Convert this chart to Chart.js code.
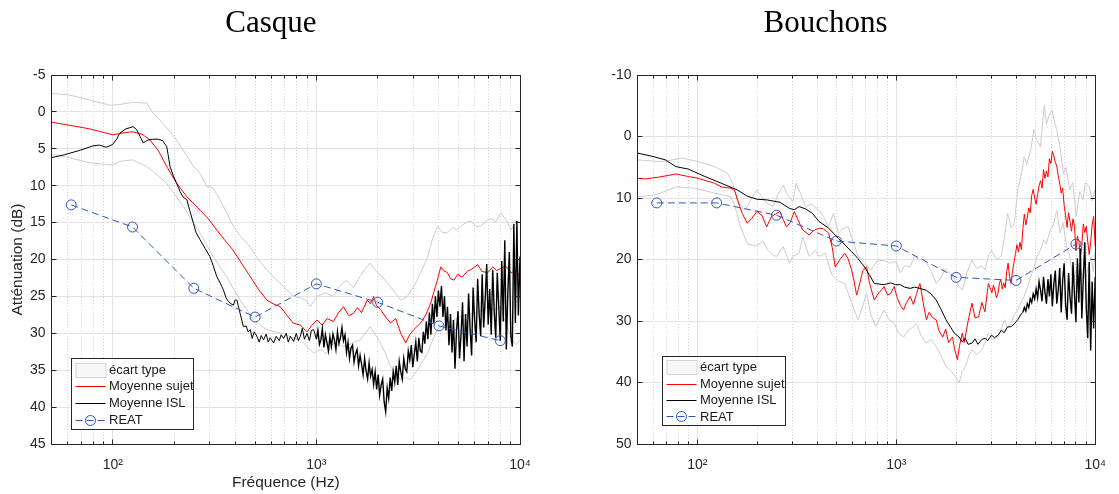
<!DOCTYPE html>
<html lang="fr">
<head>
<meta charset="utf-8">
<title>Atténuation casque / bouchons</title>
<script src="https://cdn.jsdelivr.net/npm/chart.js@4.4.1/dist/chart.umd.min.js"></script>
<style>
  body { margin: 0; background: #fff; }
  #page { position: relative; width: 1119px; height: 494px; overflow: hidden; }
  #page canvas { position: absolute; top: 0; }
  #graficoCasque { left: 0; }
  #graficoBouchons { left: 531px; }
</style>
</head>
<body>
<div id="page">
  <canvas id="graficoCasque" width="560" height="494"></canvas>
  <canvas id="graficoBouchons" width="588" height="494"></canvas>
</div>
<script>
// graduations de l'axe des fréquences (log)
const graduationsX = [60, 70, 80, 90, 100, 200, 300, 400, 500, 600, 700, 800, 900, 1000, 2000, 3000, 4000, 5000, 6000, 7000, 8000, 9000, 10000];
const decadesX = [100, 1000, 10000];
const etiquettesX = ['10²', '10³', '10⁴'];

// REAT (bandes d'octave)
const frequencesReat = [62.5, 125, 250, 500, 1000, 2000, 4000, 8000];
const casqueReat = [12.6, 15.6, 23.9, 27.8, 23.3, 25.8, 29.0, 31.0];
const bouchonsReat = [10.8, 10.8, 12.8, 17.0, 17.8, 22.9, 23.4, 17.5];

// grille fine pour les parties bruitées (1 kHz - 10 kHz)
const frequencesFines = [1000, 1017, 1035, 1052, 1070, 1089, 1107, 1126, 1146, 1165,
  1185, 1206, 1226, 1247, 1269, 1291, 1313, 1335, 1358, 1382,
  1406, 1430, 1454, 1479, 1505, 1531, 1557, 1584, 1611, 1639,
  1667, 1696, 1725, 1754, 1785, 1815, 1846, 1878, 1910, 1943,
  1977, 2011, 2045, 2080, 2116, 2152, 2189, 2227, 2265, 2304,
  2344, 2384, 2425, 2467, 2509, 2552, 2596, 2641, 2686, 2732,
  2779, 2827, 2876, 2925, 2975, 3026, 3078, 3131, 3185, 3240,
  3296, 3352, 3410, 3468, 3528, 3589, 3650, 3713, 3777, 3842,
  3908, 3975, 4043, 4113, 4184, 4256, 4329, 4403, 4479, 4556,
  4635, 4714, 4795, 4878, 4962, 5047, 5134, 5222, 5312, 5404,
  5497, 5591, 5687, 5785, 5885, 5986, 6089, 6194, 6300, 6409,
  6519, 6631, 6745, 6861, 6979, 7099, 7222, 7346, 7472, 7601,
  7732, 7865, 8000, 8138, 8278, 8420, 8565, 8713, 8863, 9015,
  9170, 9328, 9489, 9652, 9818, 10000];

// ---- Casque ----
const casqueFreqSujet = [50, 61, 77, 100, 115, 125, 139, 152, 167, 184, 204, 231, 268, 293, 324, 355, 389, 426, 473, 518, 571, 613, 665, 719, 768, 834, 900, 945, 1007, 1067, 1130, 1212, 1286, 1358, 1440, 1521, 1590, 1665, 1778, 1840, 1910, 1970, 2066, 2187, 2316, 2450, 2596, 2744, 2870, 3005, 3254, 3445, 3645, 3810, 3930, 4081, 4225, 4403, 4560, 4732, 4950, 5180, 5524, 5790, 6194, 6490, 6937, 7350, 7680, 8057, 8520, 9037, 9560, 10000];
const casqueSujet = [1.4, 1.8, 2.3, 3.1, 2.8, 2.7, 3.0, 3.8, 5.2, 7.4, 9.5, 11.5, 13.3, 14.4, 16.0, 17.4, 18.7, 20.4, 22.3, 24.0, 25.5, 26.0, 26.4, 27.6, 28.6, 28.9, 29.8, 29.0, 28.2, 28.9, 28.0, 28.4, 27.2, 26.4, 27.6, 27.3, 26.5, 27.2, 25.5, 26.0, 25.0, 26.2, 26.8, 27.8, 28.6, 28.0, 30.0, 31.3, 30.2, 29.5, 28.6, 27.5, 25.9, 24.0, 22.8, 21.0, 21.5, 21.8, 22.6, 22.8, 22.0, 22.4, 21.6, 21.3, 20.7, 21.6, 21.8, 21.0, 21.5, 21.2, 20.9, 21.8, 21.5, 22.3];

const casqueFreqHaut = [50, 61, 77, 97, 108, 125, 147, 156, 164, 182, 206, 229, 249, 268, 289, 311, 336, 360, 391, 422, 473, 518, 571, 627, 690, 772, 834, 894, 935, 1007, 1105, 1212, 1311, 1409, 1521, 1640, 1740, 1840, 1950, 2066, 2187, 2316, 2450, 2596, 2800, 2970, 3130, 3290, 3520, 3690, 3930, 4140, 4403, 4700, 4870, 5120, 5430, 5750, 6080, 6400, 6800, 7200, 7600, 8057, 8520, 9037, 9350, 9600, 10000];
const casqueHaut = [-2.5, -2.3, -1.6, -0.9, -1.0, -1.3, -1.2, 0.0, 0.6, 2.0, 3.8, 5.8, 7.4, 8.3, 10.1, 10.3, 11.9, 13.5, 15.5, 16.8, 18.3, 20.0, 21.4, 22.6, 23.7, 25.0, 25.2, 25.6, 26.4, 25.0, 24.5, 25.0, 23.5, 22.8, 23.8, 22.3, 21.2, 20.5, 21.5, 22.1, 22.9, 23.7, 24.6, 25.5, 25.0, 23.9, 22.8, 21.5, 19.6, 17.5, 15.5, 16.3, 16.4, 15.6, 16.0, 15.5, 15.0, 14.8, 15.5, 15.5, 14.8, 14.4, 14.9, 13.7, 14.6, 16.0, 15.3, 14.8, 15.0];

const casqueFreqBas = [50, 61, 77, 100, 108, 125, 147, 163, 184, 202, 222, 245, 268, 289, 311, 336, 362, 390, 422, 456, 491, 530, 571, 627, 690, 752, 834, 900, 970, 1045, 1120, 1212, 1311, 1409, 1521, 1640, 1740, 1840, 1950, 2066, 2187, 2316, 2450, 2596, 2744, 2900, 3130, 3290, 3520, 3690, 3930, 4140, 4403, 4732, 5120, 5524, 5960, 6400, 6937, 7440, 8057, 8300, 8650, 9037, 9350, 9600, 10000];
const casqueBas = [5.7, 6.2, 6.9, 7.2, 6.7, 6.5, 7.4, 8.4, 9.7, 11.2, 12.8, 14.7, 16.4, 18.0, 19.6, 21.0, 22.3, 23.9, 25.5, 26.8, 28.2, 28.9, 29.5, 29.8, 30.0, 30.5, 30.9, 31.8, 32.7, 32.2, 32.8, 31.3, 31.7, 31.8, 31.2, 30.9, 30.0, 29.1, 30.2, 31.3, 32.8, 34.5, 35.5, 36.3, 36.0, 36.3, 35.0, 34.0, 32.7, 31.2, 29.5, 29.0, 28.6, 28.2, 27.7, 27.5, 27.3, 27.0, 26.4, 26.8, 26.4, 27.8, 29.1, 30.4, 31.3, 31.5, 30.9];

const casqueFreqIsl = [50, 58, 69, 80, 86, 93, 100, 105, 108, 116, 126, 131, 136, 141, 145, 149, 157, 167, 176, 184, 187, 191, 198, 206, 214, 221, 231, 239, 249, 256, 268, 284, 300, 311, 324, 337, 349, 360, 370, 381, 391, 399, 407, 413, 422, 438,
  452, 462, 473, 484, 495, 510, 524, 536, 550, 567, 580, 593, 616, 635, 657, 672, 690, 711, 728, 745, 773, 797, 815, 834, 853, 873, 900, 924, 945, 970].concat(frequencesFines);
const casqueIsl = [6.2, 5.8, 5.2, 4.6, 4.5, 4.8, 4.4, 3.6, 2.9, 2.3, 2.0, 2.4, 3.3, 4.2, 4.0, 3.8, 3.7, 3.7, 3.9, 4.7, 5.8, 7.4, 8.6, 9.7, 10.8, 11.5, 11.9, 13.4, 15.1, 16.3, 17.3, 18.5, 19.6, 20.8, 22.3, 23.2, 24.1, 25.2, 25.7, 26.0, 26.2, 25.5, 25.5, 26.2, 27.3, 29.1,
  29.0, 29.8, 29.5, 30.7, 29.8, 30.4, 31.2, 30.3, 30.9, 30.1, 31.2, 30.6, 31.3, 30.4, 31.0, 30.2, 30.7, 30.0, 31.2, 30.4, 31.1, 30.0, 31.0, 30.4, 29.3, 30.8, 30.0, 31.0, 29.6, 29.5,
  30.8, 29.6, 31.5, 30.9, 29.4, 31.9, 30.2, 31.2, 32.4, 30.5,
  31.8, 30.1, 30.9, 32.2, 29.8, 31.4, 30.6, 29.2, 31.0, 30.2,
  32.6, 31.2, 33.4, 32.0, 31.6, 33.9, 32.8, 32.2, 34.4, 33.0,
  34.2, 35.6, 33.4, 35.1, 36.2, 34.0, 35.8, 34.9, 36.9, 35.2,
  37.6, 35.6, 38.4, 37.0, 36.2, 39.3, 40.6, 37.4, 38.8, 36.0,
  37.8, 35.2, 36.6, 34.4, 37.0, 33.8, 35.2, 36.2, 33.4, 34.8,
  35.2, 32.4, 33.6, 31.6, 34.6, 32.8, 31.2, 33.8, 30.6, 32.4,
  32.6, 29.8, 31.4, 28.4, 30.8, 27.2, 30.2, 26.0, 28.6, 25.0,
  27.8, 24.2, 26.4, 23.6, 27.8, 25.0, 29.6, 26.4, 31.6, 27.4,
  32.6, 28.2, 34.8, 29.6, 27.0, 33.4, 30.2, 25.8, 33.8, 27.4,
  31.8, 24.6, 29.4, 33.0, 23.8, 28.2, 31.2, 22.6, 27.4, 30.4,
  22.0, 29.2, 25.4, 20.6, 28.8, 24.0, 30.2, 21.4, 27.2, 30.6,
  21.8, 26.4, 31.0, 20.2, 28.4, 17.4, 32.2, 24.6, 19.0, 30.4,
  31.8, 15.2, 28.6, 14.8, 27.6, 19.6];

// ---- Bouchons ----
const bouchonsFreqSujet = [50, 55, 64, 78, 90, 101, 122, 132, 147, 154, 159, 168, 178, 188, 199, 211, 223, 236, 260, 271, 280, 293, 307, 320, 338, 365, 384, 408, 430, 457, 476, 493, 521, 551, 571, 596, 613, 632, 656, 679, 709, 733, 775, 818, 850, 868, 904, 937, 977,
  1005, 1049, 1089, 1125, 1174, 1219, 1266, 1315, 1365, 1417, 1461, 1529, 1587, 1636, 1712, 1771, 1833, 1917, 1961, 2028, 2080, 2146, 2195, 2297, 2350, 2403, 2486, 2593, 2692, 2790, 2903]
  .concat(frequencesFines.filter(function (f) { return f >= 3026; }));
const bouchonsSujet = [6.8, 6.9, 6.6, 6.1, 6.5, 6.8, 7.6, 8.2, 8.4, 8.8, 10.3, 12.5, 14.1, 13.3, 12.2, 12.8, 14.7, 13.0, 12.2, 13.6, 14.7, 14.0, 12.2, 13.5, 15.2, 16.0, 15.3, 14.9, 15.0, 15.7, 18.0, 21.2, 20.0, 19.0, 19.8, 21.7, 23.5, 25.8, 23.8, 21.8, 21.2, 23.8, 26.6, 25.4, 24.8, 24.4, 25.8, 25.5, 24.4,
  26.0, 27.5, 28.2, 27.0, 26.0, 27.3, 25.5, 23.9, 27.0, 29.8, 28.6, 29.5, 29.8, 31.5, 32.6, 31.3, 33.5, 32.6, 34.5, 36.3, 34.0, 32.0, 33.5, 30.0, 28.5, 27.1, 29.5, 29.3, 27.0, 28.5, 23.9,
  25.4, 24.2, 25.0, 26.2, 25.6, 24.0, 23.2, 24.8, 23.8, 24.6,
  22.0, 20.6, 22.8, 23.9, 21.8, 20.4, 19.0, 17.6, 18.8, 17.2,
  18.4, 15.0, 12.6, 14.4, 13.2, 11.6, 12.4, 9.6, 8.6, 10.0,
  11.0, 9.4, 8.0, 7.2, 8.4, 5.4, 6.8, 5.6, 6.6, 3.6,
  4.4, 2.4, 3.2, 4.2, 4.8, 6.4, 7.6, 9.2, 8.4, 11.2,
  12.8, 14.8, 12.4, 13.8, 15.4, 13.4, 14.6, 18.6, 16.2, 17.0,
  19.6, 17.8, 14.2, 15.6, 14.6, 17.0, 19.2, 17.2, 14.4, 13.0, 17.8];

const bouchonsFreqHaut = [50, 67, 84, 101, 122, 142, 150, 159, 172, 178, 188, 199, 211, 223, 241, 253, 270, 284, 302, 314, 332, 351, 376, 408, 430, 457, 483, 512, 540, 573, 605, 642, 692, 745, 808, 868, 937, 994,
  1049, 1101, 1174, 1233, 1315, 1365, 1444, 1529, 1587, 1673, 1771, 1917, 2028, 2146, 2271, 2403, 2543, 2692, 2795, 2913, 3013, 3189, 3376, 3491, 3631, 3780, 3923,
  4077, 4233, 4394, 4530, 4741, 4920, 5070, 5307, 5429, 5554, 5681, 5830, 6060, 6218, 6405, 6657, 6920, 7127, 7458, 7716, 8030, 8357, 8676, 8930, 9344, 9667, 9860, 10000];
const bouchonsHaut = [3.8, 4.1, 3.5, 4.1, 4.9, 6.0, 7.5, 10.3, 12.0, 11.4, 10.0, 8.7, 9.8, 10.8, 11.4, 9.5, 7.9, 9.5, 10.6, 7.6, 9.5, 11.4, 11.0, 12.0, 13.0, 14.7, 12.5, 15.7, 15.0, 14.7, 17.0, 19.5, 20.5, 21.7, 20.1, 20.2, 20.6, 20.3,
  22.2, 21.0, 21.2, 19.5, 20.1, 19.5, 21.0, 22.5, 23.9, 23.0, 21.5, 22.8, 24.0, 25.0, 22.0, 20.1, 21.5, 21.0, 21.7, 19.2, 18.5, 20.0, 19.5, 16.5, 12.5, 14.8, 14.1,
  8.7, 6.5, 3.3, 4.5, 2.2, -1.1, 0.5, 1.7, -2.0, -5.1, -2.0, -3.2, -4.3, -2.5, -1.1, 1.7, 6.0, 5.0, 8.7, 7.5, 13.0, 9.0, 10.3, 7.5, 8.2, 10.5, 9.2, 8.5];

const bouchonsFreqBas = [50, 62, 78, 97, 122, 147, 155, 165, 178, 195, 215, 226, 241, 250, 270, 291, 302, 325, 338, 365, 393, 408, 440, 475, 512, 551, 596, 642, 679, 709, 745, 787, 828, 868, 923, 977,
  1029, 1089, 1152, 1219, 1266, 1335, 1417, 1495, 1587, 1673, 1777, 1874, 1990, 2068, 2146, 2228, 2323, 2403, 2543, 2692, 2790, 2903, 3048, 3251, 3376, 3503, 3612, 3780, 3909,
  4077, 4233, 4394, 4530, 4741, 4902, 5110, 5307, 5508, 5681, 5941, 6148, 6405, 6657, 6886, 7178, 7458, 7735, 8039, 8357, 8634, 9000, 9344, 9526, 9777, 10000];
const bouchonsBas = [9.8, 9.5, 8.2, 8.4, 9.2, 9.8, 11.5, 14.7, 17.4, 17.8, 17.1, 18.5, 19.3, 19.5, 17.9, 20.6, 19.5, 19.0, 16.3, 19.5, 18.5, 19.5, 19.0, 22.5, 23.5, 23.9, 27.0, 29.8, 27.5, 25.5, 29.0, 30.9, 29.5, 28.2, 29.8, 30.4,
  32.0, 32.6, 31.5, 30.9, 30.4, 32.5, 33.6, 33.0, 34.2, 35.5, 37.4, 38.0, 39.1, 40.1, 38.2, 37.4, 35.5, 34.7, 35.5, 34.7, 33.5, 32.0, 33.0, 32.6, 31.2, 29.8, 31.0, 30.4, 29.0,
  28.2, 27.0, 26.0, 24.8, 22.8, 21.5, 19.5, 18.5, 16.8, 17.5, 15.2, 14.5, 12.0, 15.7, 14.0, 17.9, 19.5, 23.9, 21.5, 20.6, 23.0, 22.8, 20.5, 19.5, 22.0, 18.5];

const bouchonsFreqIsl = [50, 59, 69, 78, 90, 109, 132, 159, 178, 199, 223, 260, 291, 307, 325, 351, 379, 408, 457, 512, 596, 640, 692, 733, 775, 820, 868, 937, 994,
  1049, 1101, 1174, 1233, 1315, 1417, 1495, 1587, 1673, 1777, 1874, 1961, 2068, 2146, 2221, 2297, 2403, 2486, 2572, 2692, 2795, 2881, 3013, 3118, 3251, 3376, 3491, 3612, 3780, 3909,
  4077, 4233].concat(frequencesFines.filter(function (f) { return f >= 4329; }));
const bouchonsIsl = [2.7, 3.2, 3.8, 4.9, 5.3, 6.5, 7.6, 8.7, 9.7, 10.2, 10.3, 10.7, 11.7, 11.9, 11.4, 11.8, 12.5, 13.8, 14.9, 16.6, 18.7, 19.8, 21.2, 22.5, 23.9, 24.0, 24.1, 23.8, 24.1,
  24.1, 24.5, 24.7, 24.5, 24.7, 25.0, 25.6, 26.6, 28.0, 29.8, 31.0, 32.0, 32.6, 33.4, 32.8, 33.8, 33.6, 32.9, 33.8, 33.0, 32.8, 33.2, 32.3, 32.7, 32.3, 31.5, 31.9, 31.0, 30.9, 30.5,
  29.8, 28.9,
  28.6, 27.8, 28.4, 27.2, 27.8, 26.4, 27.0, 25.6, 26.4, 24.8,
  26.2, 23.6, 25.0, 26.8, 22.8, 25.4, 27.2, 23.2, 26.0, 22.4,
  27.6, 24.0, 21.8, 27.2, 25.0, 21.4, 28.6, 23.4, 20.6, 27.4,
  29.8, 22.2, 26.2, 28.8, 20.4, 25.6, 30.2, 19.8, 27.0, 18.2,
  29.6, 23.0, 17.2, 27.8, 32.8, 20.4, 34.8, 23.6, 31.2, 22.8];

function points(frequences, valeurs) {
  return frequences.map(function (f, i) { return { x: f, y: valeurs[i] }; });
}

function aligne(v) {
  return Math.round(v - 0.5) + 0.5;
}

// cadre + graduations vers l'intérieur (style matlab)
const cadreMatlab = {
  id: 'cadreMatlab',
  afterDatasetsDraw(chart) {
    const { ctx, chartArea, scales } = chart;
    const g = aligne(chartArea.left), d = aligne(chartArea.right);
    const h = aligne(chartArea.top), b = aligne(chartArea.bottom);
    ctx.save();
    ctx.strokeStyle = '#262626';
    ctx.lineWidth = 1;
    ctx.beginPath();
    scales.y.ticks.forEach(function (t) {
      const y = aligne(scales.y.getPixelForValue(t.value));
      ctx.moveTo(g, y); ctx.lineTo(g + 5, y);
      ctx.moveTo(d, y); ctx.lineTo(d - 5, y);
    });
    scales.x.ticks.forEach(function (t) {
      const x = aligne(scales.x.getPixelForValue(t.value));
      const l = decadesX.includes(t.value) ? 5 : 3;
      ctx.moveTo(x, b); ctx.lineTo(x, b - l);
      ctx.moveTo(x, h); ctx.lineTo(x, h + l);
    });
    ctx.stroke();
    ctx.strokeRect(g, h, d - g, b - h);
    ctx.restore();
  }
};

// légende dans le coin en bas à gauche
const legendeMatlab = {
  id: 'legendeMatlab',
  afterDraw(chart, args, opts) {
    const { ctx, chartArea } = chart;
    const x0 = aligne(chartArea.left + opts.dx);
    const y0 = aligne(chartArea.bottom - opts.dBas - opts.hauteur);
    ctx.save();
    ctx.fillStyle = '#ffffff';
    ctx.fillRect(x0, y0, opts.largeur, opts.hauteur);
    ctx.strokeStyle = '#262626';
    ctx.lineWidth = 1;
    ctx.strokeRect(x0, y0, opts.largeur, opts.hauteur);
    ctx.font = '13px "Liberation Sans", Arial, sans-serif';
    ctx.textBaseline = 'middle';
    let rang = 0;
    chart.data.datasets.forEach(function (ds) {
      if (!ds.legende) return;
      const y = y0 + opts.hauteur * 0.155 + rang * opts.hauteur * 0.238;
      const xa = x0 + 4, xb = x0 + 34;
      if (ds.legende === 'patch') {
        ctx.fillStyle = '#f7f7f7';
        ctx.fillRect(xa, y - 7, 30, 14);
        ctx.strokeStyle = '#d4d4d4';
        ctx.strokeRect(xa + 0.5, Math.round(y - 7) + 0.5, 30, 14);
      } else {
        ctx.strokeStyle = ds.borderColor;
        ctx.setLineDash(ds.borderDash || []);
        ctx.beginPath();
        ctx.moveTo(xa, Math.round(y) + 0.5);
        ctx.lineTo(xb, Math.round(y) + 0.5);
        ctx.stroke();
        ctx.setLineDash([]);
        if (ds.pointRadius) {
          ctx.beginPath();
          ctx.arc((xa + xb) / 2, Math.round(y) + 0.5, ds.pointRadius, 0, Math.PI * 2);
          ctx.stroke();
        }
      }
      ctx.fillStyle = '#1a1a1a';
      ctx.fillText(ds.label, x0 + 37.5, y + 0.5);
      rang++;
    });
    ctx.restore();
  }
};

function creerGraphique(idCanvas, r) {
  const ctx = document.getElementById(idCanvas);
  const base = { borderWidth: 1, pointRadius: 0, tension: 0, fill: false };
  return new Chart(ctx, {
    type: 'line',
    data: {
      datasets: [
        Object.assign({}, base, { label: 'écart type', data: points(r.fHaut, r.haut), borderColor: '#cccccc', order: 4, legende: 'patch' }),
        Object.assign({}, base, { label: 'écart type', data: points(r.fBas, r.bas), borderColor: '#cccccc', order: 5, legende: null }),
        Object.assign({}, base, { label: 'Moyenne sujet', data: points(r.fSujet, r.sujet), borderColor: '#ff0000', order: 3, legende: 'ligne' }),
        Object.assign({}, base, {
          label: 'Moyenne ISL', data: points(r.fIsl, r.isl), borderColor: '#000000', order: 2, legende: 'ligne',
          // trait un peu plus épais dans la zone bruitée
          segment: { borderWidth: function (s) { return s.p0.parsed.x >= r.debutBruit ? 1.4 : 1; } }
        }),
        Object.assign({}, base, {
          label: 'REAT', data: points(frequencesReat, r.reat), borderColor: '#2f55bf', borderDash: [7, 4],
          pointRadius: 5, pointBorderColor: '#2f55bf', pointBackgroundColor: 'rgba(0,0,0,0)', pointBorderWidth: 1,
          order: 1, legende: 'ligne'
        })
      ]
    },
    options: {
      responsive: false,
      animation: false,
      events: [],
      layout: { padding: { left: r.padGauche, right: r.padDroite, top: 0, bottom: 0 } },
      scales: {
        x: {
          type: 'logarithmic',
          min: 50,
          max: 10000,
          afterBuildTicks: function (scale) {
            scale.ticks = graduationsX.map(function (v) { return { value: v }; });
          },
          afterFit: function (scale) { scale.height = 50; },
          grid: {
            drawTicks: false,
            color: function (c) { return c.tick && decadesX.includes(c.tick.value) ? '#e2e2e2' : '#d2d2d2'; }
          },
          border: {
            display: false,
            dash: function (c) { return c.tick && !decadesX.includes(c.tick.value) ? [1, 2] : []; }
          },
          ticks: {
            autoSkip: false,
            maxRotation: 0,
            minRotation: 0,
            padding: 13,
            color: '#262626',
            font: { family: '"Liberation Sans", Arial, sans-serif', size: 14 },
            callback: function (v) {
              const i = decadesX.indexOf(v);
              return i >= 0 ? etiquettesX[i] : '';
            }
          },
          title: {
            display: r.titreX !== '',
            text: r.titreX,
            color: '#262626',
            font: { family: '"Liberation Sans", Arial, sans-serif', size: 15.5 },
            padding: { top: 0, bottom: 2 }
          }
        },
        y: {
          reverse: true,
          min: r.yMin,
          max: r.yMax,
          afterFit: function (scale) { scale.width = r.largeurY; },
          grid: { drawTicks: false, color: '#e2e2e2' },
          border: { display: false },
          ticks: {
            stepSize: r.pas,
            padding: 6,
            color: '#262626',
            font: { family: '"Liberation Sans", Arial, sans-serif', size: 14 }
          },
          title: {
            display: r.titreY !== '',
            text: r.titreY,
            color: '#262626',
            font: { family: '"Liberation Sans", Arial, sans-serif', size: 15.5 },
            padding: { top: r.decalTitreY, bottom: 0 }
          }
        }
      },
      plugins: {
        legend: { display: false },
        tooltip: { enabled: false },
        title: {
          display: true,
          text: r.titre,
          color: '#000000',
          font: { family: '"Liberation Serif", "Times New Roman", serif', size: 31, weight: 'normal' },
          padding: { top: 5.4, bottom: 32.4 }
        },
        legendeMatlab: r.legende
      }
    },
    plugins: [cadreMatlab, legendeMatlab]
  });
}

creerGraphique('graficoCasque', {
  titre: 'Casque', titreX: 'Fréquence (Hz)', titreY: 'Atténuation (dB)', decalTitreY: -13.8,
  yMin: -5, yMax: 45, pas: 5, padGauche: 22, padDroite: 40, largeurY: 29.5, debutBruit: 1000,
  fSujet: casqueFreqSujet, sujet: casqueSujet, fHaut: casqueFreqHaut, haut: casqueHaut,
  fBas: casqueFreqBas, bas: casqueBas, fIsl: casqueFreqIsl, isl: casqueIsl, reat: casqueReat,
  legende: { dx: 19.5, dBas: 15, largeur: 122, hauteur: 71 }
});

creerGraphique('graficoBouchons', {
  titre: 'Bouchons', titreX: '', titreY: '', decalTitreY: 0,
  yMin: -10, yMax: 50, pas: 10, padGauche: 14, padDroite: 13, largeurY: 92.5, debutBruit: 4300,
  fSujet: bouchonsFreqSujet, sujet: bouchonsSujet, fHaut: bouchonsFreqHaut, haut: bouchonsHaut,
  fBas: bouchonsFreqBas, bas: bouchonsBas, fIsl: bouchonsFreqIsl, isl: bouchonsIsl, reat: bouchonsReat,
  legende: { dx: 24.5, dBas: 19, largeur: 123, hauteur: 69 }
});
</script>
</body>
</html>
